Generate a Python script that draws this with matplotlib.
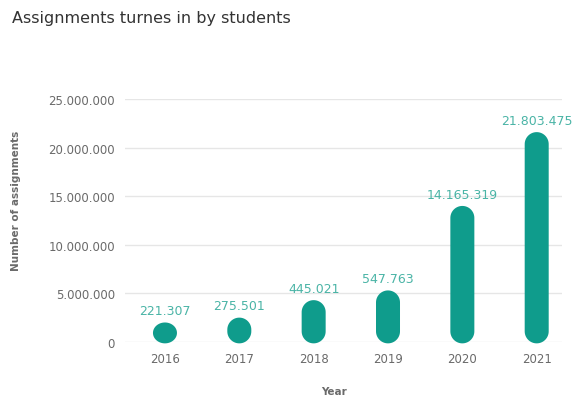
import numpy as np
import matplotlib.pyplot as plt
from matplotlib.patches import Polygon

years = ["2016", "2017", "2018", "2019", "2020", "2021"]
value_labels = ["221.307", "275.501", "445.021", "547.763", "14.165.319", "21.803.475"]
# bar heights as drawn in the picture (they don't match the labels)
bar_heights = [2.0e6, 2.5e6, 4.3e6, 5.3e6, 14.0e6, 21.6e6]
yticks = [0, 5e6, 10e6, 15e6, 20e6, 25e6]
ytick_labels = ["0", "5.000.000", "10.000.000", "15.000.000", "20.000.000", "25.000.000"]

teal = "#0f9c8c"
label_teal = "#4ab4a6"
grey = "#6a6a6a"

plt.rcParams['font.family'] = ['DejaVu Sans']

fig = plt.figure(figsize=(5.86, 4.02), dpi=100)
ax = fig.add_axes([0.213, 0.147, 0.746, 0.604])
ax.set_xlim(-0.54, 5.34)
ax.set_ylim(0, 25e6)


def pill(xc, y0, y1, w, ry):
    # stadium shape in data coords, caps of half-width w/2 and y-radius ry
    ry = min(ry, (y1 - y0) / 2)
    t = np.linspace(0, np.pi, 40)
    top = np.column_stack([xc + w / 2 * np.cos(t), y1 - ry + ry * np.sin(t)])
    bot = np.column_stack([xc - w / 2 * np.cos(t), y0 + ry - ry * np.sin(t)])
    return np.vstack([top, bot])


bar_px = 24
ypx = 25e6 / (0.604 * 402)   # data units per pixel, y
xpx = 5.88 / (0.746 * 586)   # data units per pixel, x
w = bar_px * xpx
ry = bar_px / 2 * ypx
bottom = -0.15e6
for i, h in enumerate(bar_heights):
    ax.add_patch(Polygon(pill(i, bottom, h, w, ry), closed=True, facecolor=teal,
                         edgecolor='none', clip_on=False, zorder=3))
    ax.text(i, h + 0.55e6, value_labels[i], ha='center', va='bottom',
            color=label_teal, fontsize=9)

ax.set_yticks(yticks)
ax.set_yticklabels(ytick_labels)
ax.set_xticks(range(len(years)))
ax.set_xticklabels(years)
ax.tick_params(length=0, labelsize=8.5, labelcolor=grey, pad=7)
ax.grid(axis='y', color='#e6e6e6', linewidth=1)
ax.set_axisbelow(True)
for s in ax.spines.values():
    s.set_visible(False)

fig.text(0.02, 0.955, "Assignments turnes in by students", fontsize=11.5, color='#333333',
         ha='left', va='center')
fig.text(0.028, 0.5, "Number of assignments", rotation=90, fontsize=7.5, color=grey,
         ha='center', va='center', fontweight='bold')
fig.text(0.57, 0.025, "Year", fontsize=7.5, color=grey, ha='center', va='center',
         fontweight='bold')

fig.savefig("out.png", dpi=100)
